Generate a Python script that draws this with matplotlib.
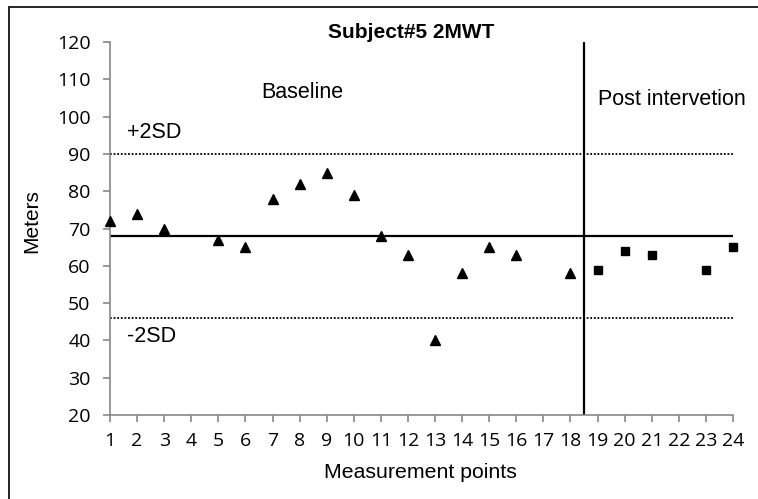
import matplotlib.pyplot as plt
from matplotlib.patches import Rectangle

plt.rcParams["font.family"] = "Liberation Sans"

# baseline (triangles) and post intervention (squares)
base_x = [1, 2, 3, 5, 6, 7, 8, 9, 10, 11, 12, 13, 14, 15, 16, 18]
base_y = [72, 74, 70, 67, 65, 78, 82, 85, 79, 68, 63, 40, 58, 65, 63, 58]
post_x = [19, 20, 21, 23, 24]
post_y = [59, 64, 63, 59, 65]

mean_val = 68
plus2sd = 90
minus2sd = 46
phase_change = 18.5

fig = plt.figure(figsize=(7.58, 4.99), dpi=100)
ax = fig.add_axes([0.1451, 0.1683, 0.967 - 0.1451, 0.9158 - 0.1683])

# outer frame
fig.patches.append(Rectangle((9 / 758, -0.1), 1.2, 1 - 7 / 499 + 0.1,
                             transform=fig.transFigure, fill=False,
                             edgecolor='black', linewidth=1.2))

ax.plot(base_x, base_y, linestyle='none', marker='^', markersize=7.5,
        color='black', clip_on=False, zorder=5)
ax.plot(post_x, post_y, linestyle='none', marker='s', markersize=6,
        color='black', clip_on=False, zorder=5)

ax.axhline(mean_val, color='black', linewidth=1.6)
ax.axhline(plus2sd, color='black', linewidth=1.3, linestyle=(0, (1, 1)))
ax.axhline(minus2sd, color='black', linewidth=1.3, linestyle=(0, (1, 1)))
ax.axvline(phase_change, color='black', linewidth=1.6)

ax.set_xlim(1, 24)
ax.set_ylim(20, 120)
ax.set_xticks(range(1, 25))
ax.set_yticks(range(20, 121, 10))

for s in ['top', 'right']:
    ax.spines[s].set_visible(False)
for s in ['left', 'bottom']:
    ax.spines[s].set_color('#888888')
    ax.spines[s].set_linewidth(1.2)
ax.tick_params(colors='#888888', length=5, width=1.2, labelcolor='black')
ax.tick_params(axis='y', pad=9)
ax.tick_params(axis='x', pad=7)
for lab in ax.get_xticklabels() + ax.get_yticklabels():
    lab.set_family('Open Sans')
    lab.set_fontsize(14)

ax.text(8.1, 106.4, 'Baseline', fontsize=15.5, ha='center', va='center')
ax.text(19.0, 104.5, 'Post intervetion', fontsize=15.5, ha='left', va='center')
ax.text(1.63, 95.7, '+2SD', fontsize=15.5, ha='left', va='center')
ax.text(1.63, 41.1, '-2SD', fontsize=15.5, ha='left', va='center')

fig.text(328 / 758, 1 - 38 / 499, 'Subject#5 2MWT', fontsize=15,
         fontweight='bold', ha='left', va='baseline')
ax.set_ylabel('Meters', fontsize=15)
ax.yaxis.set_label_coords(-0.111, 0.52)
ax.set_xlabel('Measurement points', fontsize=15.3)
ax.xaxis.set_label_coords(0.498, -0.129)

fig.savefig('out.png', dpi=100)
